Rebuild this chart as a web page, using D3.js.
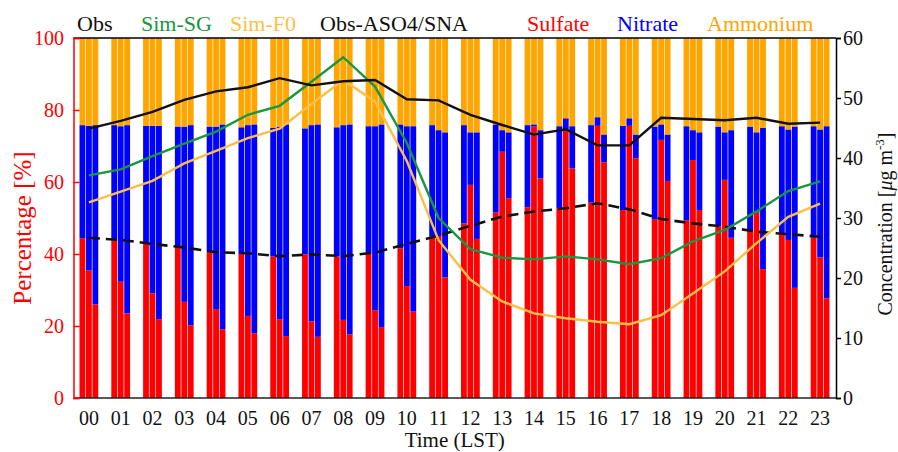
<!DOCTYPE html>
<html lang="en">
  <head>
    <meta charset="UTF-8" />
    <title>Diurnal SNA composition</title>
    <script src="https://d3js.org/d3.v7.min.js"></script>
    <style>
      html,
      body {
        margin: 0;
        padding: 0;
        background: #fff;
      }
      svg text {
        font-family: "Liberation Serif", "Times New Roman", serif;
      }
    </style>
  </head>
  <body>
    <svg id="chart"></svg>
    <script>
      // ---- data ----
      const hours = ["00", "01", "02", "03", "04", "05", "06", "07", "08", "09", "10", "11",
                     "12", "13", "14", "15", "16", "17", "18", "19", "20", "21", "22", "23"];

      // percentage of SNA, observed (1st bar), Sim-SG (2nd bar), Sim-F0 (3rd bar)
      const obsSulfate = [44.4, 43.7, 42.8, 41.9, 40.4, 40.0, 39.3, 39.9, 39.3, 40.0, 41.6, 44.8,
                          48.5, 51.5, 53.0, 52.8, 54.3, 52.2, 49.7, 49.4, 47.6, 46.4, 45.5, 44.5];
      const obsNitrate = [31.4, 32.1, 32.8, 33.5, 35.0, 35.2, 35.7, 35.0, 35.9, 35.5, 34.4, 31.0,
                          27.3, 24.5, 22.8, 22.7, 21.5, 23.4, 25.7, 26.1, 27.8, 29.0, 30.0, 31.0];
      const obsAmmonium = [24.2, 24.2, 24.4, 24.6, 24.6, 24.8, 25.0, 25.1, 24.8, 24.5, 24.0, 24.2,
                           24.2, 24.0, 24.2, 24.5, 24.2, 24.4, 24.6, 24.5, 24.6, 24.6, 24.5, 24.5];

      const sgSulfate = [35.4, 32.3, 29.1, 26.7, 24.7, 22.8, 21.9, 21.3, 21.7, 24.4, 31.1, 45.0,
                         59.2, 68.4, 75.4, 74.4, 75.6, 75.6, 71.7, 66.1, 60.6, 51.5, 43.9, 39.1];
      const sgNitrate = [40.2, 43.2, 46.5, 48.7, 50.7, 53.0, 53.5, 54.5, 54.1, 51.1, 44.4, 29.4,
                         14.6, 6.0, 0.6, 3.3, 2.4, 2.1, 4.3, 8.3, 13.2, 22.3, 30.7, 35.5];
      const sgAmmonium = [24.4, 24.5, 24.4, 24.6, 24.6, 24.2, 24.6, 24.2, 24.2, 24.5, 24.5, 25.6,
                          26.2, 25.6, 24.0, 22.3, 22.0, 22.3, 24.0, 25.6, 26.2, 26.2, 25.4, 25.4];

      const f0Sulfate = [26.0, 23.5, 21.9, 20.2, 19.1, 18.0, 17.2, 17.0, 17.7, 19.7, 24.0, 33.5,
                         44.2, 55.5, 61.0, 63.8, 65.5, 66.6, 60.3, 52.2, 44.5, 35.8, 30.6, 27.7];
      const f0Nitrate = [49.8, 52.3, 53.7, 55.6, 56.9, 58.0, 58.8, 59.0, 58.3, 56.3, 51.5, 40.3,
                         29.6, 18.3, 13.4, 11.7, 7.7, 6.6, 12.9, 21.6, 29.9, 39.3, 44.8, 47.8];
      const f0Ammonium = [24.2, 24.2, 24.4, 24.2, 24.0, 24.0, 24.0, 24.0, 24.0, 24.0, 24.5, 26.2,
                          26.2, 26.2, 25.6, 24.5, 26.8, 26.8, 26.8, 26.2, 25.6, 24.9, 24.6, 24.5];

      // SNA concentration (right axis, ug m-3)
      const obsConc = [44.9, 46.2, 47.7, 49.7, 51.1, 51.8, 53.3, 52.1, 52.8, 53.0, 49.8, 49.6,
                       47.2, 45.5, 43.9, 44.8, 42.1, 42.1, 46.7, 46.5, 46.3, 46.7, 45.7, 45.9];
      const sgConc = [37.1, 38.1, 40.3, 42.4, 44.4, 47.2, 48.7, 52.7, 56.8, 51.9, 42.5, 30.0,
                      24.8, 23.4, 23.1, 23.6, 23.1, 22.3, 23.3, 26.1, 28.0, 31.1, 34.5, 36.1];
      const f0Conc = [32.6, 34.4, 36.2, 39.1, 41.2, 43.3, 44.9, 49.0, 53.0, 49.4, 39.5, 26.3,
                      19.7, 16.1, 14.1, 13.3, 12.7, 12.3, 13.8, 17.4, 21.1, 25.8, 30.2, 32.4];
      // observed ASO4/SNA ratio (left axis, %)
      const obsRatio = [44.5, 43.9, 42.8, 41.8, 40.5, 40.2, 39.4, 39.9, 39.4, 40.4, 42.8, 45.1,
                        47.8, 50.4, 51.8, 52.7, 54.1, 52.4, 49.7, 48.5, 47.6, 46.2, 45.5, 44.8];

      const leftTicks = [0, 20, 40, 60, 80, 100];
      const rightTicks = [0, 10, 20, 30, 40, 50, 60];

      const legendNames = ["Obs", "Sim-SG", "Sim-F0", "Obs-ASO4/SNA", "Sulfate", "Nitrate", "Ammonium"];

      // ---- layout ----
      const W = 898, H = 452;
      const plotLeft = 73.5, plotRight = 836, plotTop = 38, plotBottom = 398;
      const legendX = [77, 141, 230, 320, 527, 617, 707];

      const colors = {
        sulfate: "#ff0000",
        nitrate: "#0000ff",
        ammonium: "#ffa500",
        obs: "#111111",
        sg: "#1a9640",
        f0: "#fbbf47",
      };
      const legendColors = [colors.obs, colors.sg, colors.f0, colors.obs,
                            colors.sulfate, colors.nitrate, colors.ammonium];

      const svg = d3.select("#chart").attr("width", W).attr("height", H);

      const x = d3.scaleBand().domain(hours).range([73, 836])
        .paddingInner(0.41).paddingOuter(0.205);
      const sub = d3.scaleBand().domain(["obs", "sg", "f0"])
        .range([0, x.bandwidth()]).paddingInner(0.1);
      const yL = d3.scaleLinear().domain([0, 100]).range([plotBottom, plotTop]);
      const yR = d3.scaleLinear().domain([0, 60]).range([plotBottom, plotTop]);

      // stacked bars
      const sources = [
        { key: "obs", s: obsSulfate, n: obsNitrate, a: obsAmmonium },
        { key: "sg", s: sgSulfate, n: sgNitrate, a: sgAmmonium },
        { key: "f0", s: f0Sulfate, n: f0Nitrate, a: f0Ammonium },
      ];
      const rows = [];
      sources.forEach((src) => {
        hours.forEach((h, i) => {
          rows.push({ hour: h, key: src.key, sulfate: src.s[i], nitrate: src.n[i], ammonium: src.a[i] });
        });
      });
      const stack = d3.stack().keys(["sulfate", "nitrate", "ammonium"]);
      const layers = stack(rows);

      svg.append("g")
        .selectAll("g")
        .data(layers)
        .join("g")
        .attr("fill", (d) => colors[d.key])
        .selectAll("rect")
        .data((d) => d)
        .join("rect")
        .attr("x", (d) => x(d.data.hour) + sub(d.data.key))
        .attr("width", sub.bandwidth())
        .attr("y", (d) => yL(d[1]))
        .attr("height", (d) => yL(d[0]) - yL(d[1]));

      // frame lines
      svg.append("line").attr("x1", plotLeft).attr("x2", plotRight).attr("y1", plotTop).attr("y2", plotTop)
        .attr("stroke", "#000").attr("stroke-width", 1.5);
      svg.append("line").attr("x1", plotLeft).attr("x2", plotRight).attr("y1", plotBottom).attr("y2", plotBottom)
        .attr("stroke", "#222").attr("stroke-width", 1.5);

      // lines
      const cx = (i) => x(hours[i]) + x.bandwidth() / 2;
      const lineR = d3.line().x((d, i) => cx(i)).y((d) => yR(d));
      const lineL = d3.line().x((d, i) => cx(i)).y((d) => yL(d));

      svg.append("path").datum(obsRatio).attr("d", lineL).attr("fill", "none")
        .attr("stroke", colors.obs).attr("stroke-width", 2.6).attr("stroke-dasharray", "11,6");
      svg.append("path").datum(f0Conc).attr("d", lineR).attr("fill", "none")
        .attr("stroke", colors.f0).attr("stroke-width", 2.4);
      svg.append("path").datum(sgConc).attr("d", lineR).attr("fill", "none")
        .attr("stroke", colors.sg).attr("stroke-width", 2.4);
      svg.append("path").datum(obsConc).attr("d", lineR).attr("fill", "none")
        .attr("stroke", colors.obs).attr("stroke-width", 2.4);

      // left axis (red)
      const axL = svg.append("g").attr("transform", `translate(${plotLeft},0)`)
        .call(d3.axisRight(yL).tickValues(leftTicks).tickSize(6).tickFormat(""));
      axL.select(".domain").attr("stroke", "red").attr("stroke-width", 1.5);
      axL.selectAll(".tick line").attr("stroke", "red").attr("stroke-width", 1.5);
      svg.append("g").selectAll("text").data(leftTicks).join("text")
        .attr("x", 64).attr("y", (d) => yL(d)).attr("dy", "0.35em")
        .attr("text-anchor", "end").attr("fill", "red").attr("font-size", 20)
        .text((d) => d);

      // right axis (black)
      const axR = svg.append("g").attr("transform", `translate(${plotRight},0)`)
        .call(d3.axisRight(yR).tickValues(rightTicks).tickSize(5).tickFormat(""));
      axR.select(".domain").attr("stroke", "#000").attr("stroke-width", 1.5);
      axR.selectAll(".tick line").attr("stroke", "#000").attr("stroke-width", 1.5);
      svg.append("g").selectAll("text").data(rightTicks).join("text")
        .attr("x", 843).attr("y", (d) => yR(d)).attr("dy", "0.35em")
        .attr("fill", "#111").attr("font-size", 20)
        .text((d) => d);

      // hour labels
      svg.append("g").selectAll("text").data(hours).join("text")
        .attr("x", (d) => x(d) + x.bandwidth() / 2).attr("y", 425)
        .attr("text-anchor", "middle").attr("font-size", 20).attr("fill", "#111")
        .text((d) => d);

      svg.append("text").attr("x", (plotLeft + plotRight) / 2).attr("y", 447)
        .attr("text-anchor", "middle").attr("font-size", 21).attr("fill", "#111")
        .text("Time (LST)");

      // axis titles
      svg.append("text")
        .attr("transform", `translate(31,${(plotTop + plotBottom) / 2 + 10}) rotate(-90)`)
        .attr("text-anchor", "middle").attr("font-size", 25).attr("fill", "red")
        .text("Percentage [%]");

      const rt = svg.append("text")
        .attr("transform", `translate(892,${(plotTop + plotBottom) / 2 + 6}) rotate(-90)`)
        .attr("text-anchor", "middle").attr("font-size", 20).attr("fill", "#111");
      rt.append("tspan").text("Concentration [");
      rt.append("tspan").attr("font-style", "italic").text("\u03bc");
      rt.append("tspan").text("g m");
      rt.append("tspan").attr("font-size", 13).attr("dy", -8).text("-3");
      rt.append("tspan").attr("dy", 8).text("]");

      // legend
      svg.append("g").selectAll("text").data(legendNames).join("text")
        .attr("x", (d, i) => legendX[i]).attr("y", 31)
        .attr("font-size", 22).attr("fill", (d, i) => legendColors[i])
        .text((d) => d);
    </script>
  </body>
</html>
